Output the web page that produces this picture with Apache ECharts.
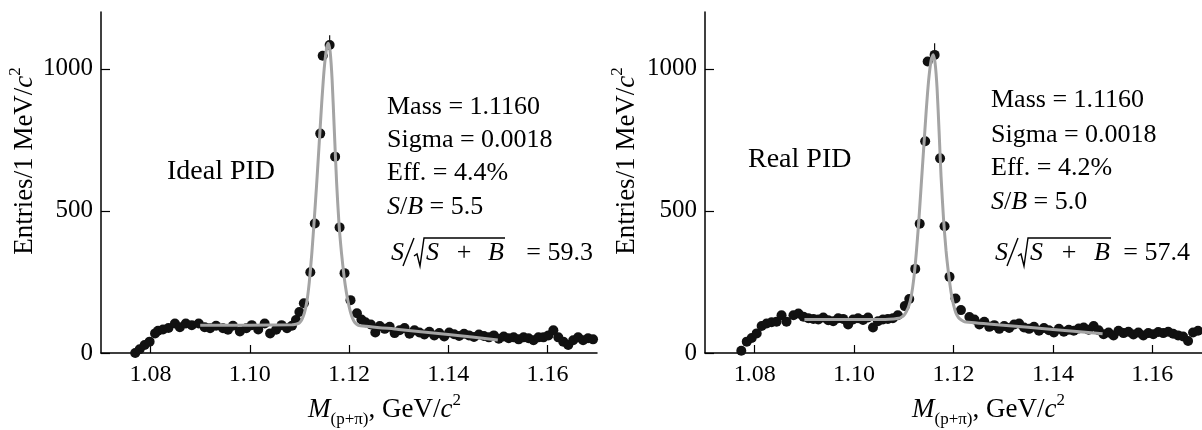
<!DOCTYPE html>
<html>
<head>
<meta charset="utf-8">
<script src="https://cdn.jsdelivr.net/npm/echarts@6/dist/echarts.min.js"></script>
<style>
  html, body { margin: 0; padding: 0; background: #fff; }
  #main { width: 1202px; height: 430px; }
</style>
</head>
<body>
<div id="main"></div>
<script>
// x ticks shared by both panels
var massTicks = [1.08, 1.10, 1.12, 1.14, 1.16];
var entryTicks = [0, 500, 1000];

// Ideal PID: measured points [mass, entries]
var idealPoints = [
  [1.0769, 0], [1.0778, 13], [1.0788, 28], [1.0798, 40], [1.0809, 69], [1.0815, 78],
  [1.0825, 83], [1.0836, 88], [1.0849, 104], [1.0859, 91], [1.0871, 104], [1.0883, 98],
  [1.0897, 104], [1.0909, 91], [1.0920, 87], [1.0932, 96], [1.0946, 87], [1.0956, 82],
  [1.0966, 96], [1.0980, 76], [1.0993, 87], [1.1004, 98], [1.1017, 83], [1.1030, 104],
  [1.1041, 69], [1.1053, 82], [1.1064, 98], [1.1075, 87], [1.1085, 96], [1.1093, 116],
  [1.1100, 144], [1.1109, 175], [1.1122, 284], [1.1131, 456], [1.1142, 772], [1.1147, 1046],
  [1.1161, 1084], [1.1172, 691], [1.1181, 442], [1.1191, 281], [1.1203, 186], [1.1216, 140],
  [1.1225, 118], [1.1233, 108], [1.1244, 100], [1.1253, 72], [1.1262, 95], [1.1272, 85],
  [1.1282, 92], [1.1292, 70], [1.1302, 80], [1.1312, 88], [1.1322, 68], [1.1332, 80],
  [1.1342, 72], [1.1352, 65], [1.1362, 75], [1.1372, 62], [1.1382, 70], [1.1392, 58],
  [1.1402, 72], [1.1412, 66], [1.1422, 60], [1.1432, 68], [1.1442, 62], [1.1452, 56],
  [1.1462, 65], [1.1472, 60], [1.1482, 55], [1.1492, 62], [1.1502, 50], [1.1512, 58],
  [1.1522, 52], [1.1532, 55], [1.1542, 48], [1.1552, 55], [1.1562, 52], [1.1572, 45],
  [1.1582, 55], [1.1592, 55], [1.1602, 62], [1.1612, 80], [1.1622, 55], [1.1632, 40],
  [1.1642, 28], [1.1652, 45], [1.1662, 55], [1.1672, 45], [1.1682, 52], [1.1692, 48]
];
// Ideal PID: fit curve
var idealFit = [
  [1.0900, 98], [1.1000, 98], [1.1085, 99], [1.1090, 100], [1.1095, 102], [1.1100, 106],
  [1.1105, 118], [1.1110, 140], [1.1115, 180], [1.1120, 250], [1.1125, 350], [1.1130, 470],
  [1.1135, 600], [1.1140, 740], [1.1145, 880], [1.1150, 1000], [1.1155, 1075], [1.1158, 1090],
  [1.1162, 1060], [1.1166, 960], [1.1170, 800], [1.1175, 600], [1.1180, 450], [1.1185, 350],
  [1.1190, 270], [1.1195, 210], [1.1200, 165], [1.1205, 132], [1.1210, 112], [1.1215, 102],
  [1.1220, 97], [1.1300, 83], [1.1400, 65], [1.1500, 46]
];
var idealErr = [[1.1161, 1060], [1.1161, 1118]];

// Real PID: measured points
var realPoints = [
  [1.0773, 8], [1.0784, 40], [1.0794, 53], [1.0804, 69], [1.0814, 95], [1.0824, 104],
  [1.0834, 108], [1.0844, 110], [1.0854, 133], [1.0864, 110], [1.0878, 133], [1.0888, 139],
  [1.0898, 128], [1.0908, 122], [1.0918, 120], [1.0928, 118], [1.0938, 125], [1.0948, 115],
  [1.0958, 112], [1.0968, 122], [1.0978, 120], [1.0988, 100], [1.0998, 118], [1.1008, 122],
  [1.1018, 116], [1.1028, 125], [1.1038, 90], [1.1048, 112], [1.1058, 118], [1.1068, 120],
  [1.1078, 122], [1.1088, 133], [1.1102, 165], [1.1111, 190], [1.1123, 296], [1.1132, 455],
  [1.1143, 745], [1.1148, 1026], [1.1162, 1049], [1.1173, 685], [1.1182, 446], [1.1192, 268],
  [1.1204, 192], [1.1215, 151], [1.1232, 127], [1.1242, 118], [1.1252, 100], [1.1262, 110],
  [1.1272, 92], [1.1282, 98], [1.1292, 85], [1.1302, 95], [1.1312, 88], [1.1322, 100],
  [1.1332, 104], [1.1342, 90], [1.1352, 85], [1.1362, 92], [1.1372, 78], [1.1382, 88],
  [1.1392, 80], [1.1402, 72], [1.1412, 85], [1.1422, 75], [1.1432, 82], [1.1442, 78],
  [1.1452, 86], [1.1462, 90], [1.1472, 82], [1.1482, 95], [1.1492, 80], [1.1502, 66],
  [1.1512, 72], [1.1522, 62], [1.1532, 78], [1.1542, 70], [1.1552, 75], [1.1562, 65],
  [1.1572, 72], [1.1582, 62], [1.1592, 70], [1.1602, 66], [1.1612, 74], [1.1622, 70],
  [1.1632, 75], [1.1642, 68], [1.1652, 62], [1.1662, 58], [1.1672, 42], [1.1682, 72],
  [1.1692, 78], [1.1702, 75]
];
// Real PID: fit curve
var realFit = [
  [1.0900, 118], [1.1050, 118], [1.1080, 120], [1.1090, 122], [1.1095, 126], [1.1100, 132],
  [1.1105, 145], [1.1110, 165], [1.1115, 200], [1.1120, 260], [1.1125, 350], [1.1130, 460],
  [1.1135, 590], [1.1140, 720], [1.1145, 850], [1.1150, 960], [1.1155, 1030], [1.1159, 1050],
  [1.1163, 1020], [1.1167, 930], [1.1171, 780], [1.1175, 620], [1.1180, 470], [1.1185, 360],
  [1.1190, 280], [1.1195, 215], [1.1200, 170], [1.1205, 140], [1.1210, 125], [1.1215, 117],
  [1.1222, 110], [1.1300, 98], [1.1400, 83], [1.1500, 68]
];
var realErr = [[1.1162, 1050], [1.1162, 1090]];

var panelLabels = ['Ideal PID', 'Real PID'];
var statLines = [
  ['Mass = 1.1160', 'Sigma = 0.0018', 'Eff. = 4.4%', '5.5', '= 59.3'],
  ['Mass = 1.1160', 'Sigma = 0.0018', 'Eff. = 4.2%', '5.0', '= 57.4']
];

var FF = "'Liberation Serif', 'DejaVu Serif', serif";
var chart = echarts.init(document.getElementById('main'));

function xAxisCfg(idx) {
  return {
    type: 'value', gridIndex: idx, min: 1.07, max: 1.17,
    axisLine: { onZero: false, lineStyle: { color: '#000', width: 1.5 } },
    axisTick: { inside: true, length: 8, customValues: massTicks, lineStyle: { color: '#000', width: 1.2 } },
    axisLabel: { customValues: massTicks, color: '#000', fontFamily: FF, fontSize: 24, margin: 10,
      formatter: function (v) { return v.toFixed(2); } },
    splitLine: { show: false }
  };
}
function yAxisCfg(idx) {
  return {
    type: 'value', gridIndex: idx, min: 0, max: 1200,
    axisLine: { show: true, lineStyle: { color: '#000', width: 1.5 } },
    axisTick: { inside: true, length: 9, customValues: entryTicks, lineStyle: { color: '#000', width: 1.2 } },
    axisLabel: { customValues: entryTicks, color: '#000', fontFamily: FF, fontSize: 25, margin: 8,
      formatter: function (v) { return String(v); } },
    splitLine: { show: false }
  };
}

var rich = {
  n: { fontFamily: FF, fontSize: 27, color: '#000', lineHeight: 36 },
  i: { fontFamily: FF, fontSize: 27, fontStyle: 'italic', color: '#000', lineHeight: 36 },
  ns: { fontFamily: FF, fontSize: 26, color: '#000', lineHeight: 34 },
  is: { fontFamily: FF, fontSize: 26, fontStyle: 'italic', color: '#000', lineHeight: 34 },
  sup: { fontFamily: FF, fontSize: 17, color: '#000', lineHeight: 17, verticalAlign: 'top' },
  sub: { fontFamily: FF, fontSize: 17, color: '#000', lineHeight: 17, verticalAlign: 'bottom' }
};

function text(x, y, str, opts) {
  opts = opts || {};
  return {
    type: 'text', x: x, y: y, rotation: opts.rotation || 0, z: 10,
    style: {
      text: str, rich: rich, fill: '#000',
      fontFamily: FF, fontSize: opts.size || 26, fontStyle: opts.italic ? 'italic' : 'normal',
      textAlign: opts.align || 'left', textVerticalAlign: 'middle'
    }
  };
}
function stroke(points) {
  return { type: 'polyline', z: 10, shape: { points: points },
    style: { stroke: '#000', lineWidth: 1.4, fill: null } };
}

function panelGraphics(p, o) {
  var s = statLines[p];
  var f = o.f;
  return [
    text(o.yNameX, 161, '{n|Entries/1 MeV/}{i|c}{sup|2}', { rotation: Math.PI / 2, align: 'center' }),
    text(o.xNameX, 410, '{i|M}{sub|(p+π)}{n|, GeV/}{i|c}{sup|2}'),
    text(o.labX, o.labY, panelLabels[p], { size: 28 }),
    text(o.sx, o.sy[0], s[0]),
    text(o.sx, o.sy[1], s[1]),
    text(o.sx, o.sy[2], s[2]),
    text(o.sx, o.sy[3], '{is|S}{ns|/}{is|B}{ns| = ' + s[3] + '}'),
    // S / sqrt(S + B)
    text(f[0], 253, 'S', { italic: true }),
    stroke([[f[1], 266], [f[1] + 11, 238]]),
    stroke([[f[2], 256], [f[2] + 3, 254], [f[2] + 6, 266], [f[2] + 10, 238], [f[3], 238]]),
    text(f[2] + 12, 253, 'S', { italic: true }),
    text(f[4], 253, '+', { align: 'center' }),
    text(f[3] - 1, 253, 'B', { italic: true, align: 'right' }),
    text(f[5], 253, s[4], { align: 'right' })
  ];
}

var graphics = panelGraphics(0, {
  yNameX: 25, xNameX: 308, labX: 167, labY: 172, sx: 387, sy: [107, 140, 173, 207],
  f: [391, 403, 414, 505, 464, 593]
}).concat(panelGraphics(1, {
  yNameX: 627, xNameX: 912, labX: 748, labY: 160, sx: 991, sy: [100, 135, 168, 202],
  f: [995, 1007, 1018, 1111, 1069, 1190]
}));

function seriesFor(idx, pts, fit, err) {
  return [
    { type: 'scatter', xAxisIndex: idx, yAxisIndex: idx, data: pts, symbolSize: 10,
      itemStyle: { color: '#111', opacity: 1 }, z: 2, silent: true },
    { type: 'line', xAxisIndex: idx, yAxisIndex: idx, data: err, showSymbol: false,
      lineStyle: { color: '#111', width: 1.2 }, z: 2, silent: true },
    { type: 'line', xAxisIndex: idx, yAxisIndex: idx, data: fit, showSymbol: false, smooth: 0.2,
      lineStyle: { color: '#a4a4a4', width: 3 }, z: 3, silent: true }
  ];
}

chart.setOption({
  animation: false,
  backgroundColor: '#fff',
  grid: [
    { left: 101, top: 12, width: 496, height: 341 },
    { left: 705, top: 12, width: 497, height: 341 }
  ],
  xAxis: [xAxisCfg(0), xAxisCfg(1)],
  yAxis: [yAxisCfg(0), yAxisCfg(1)],
  series: seriesFor(0, idealPoints, idealFit, idealErr).concat(seriesFor(1, realPoints, realFit, realErr)),
  graphic: graphics
});
</script>
</body>
</html>
